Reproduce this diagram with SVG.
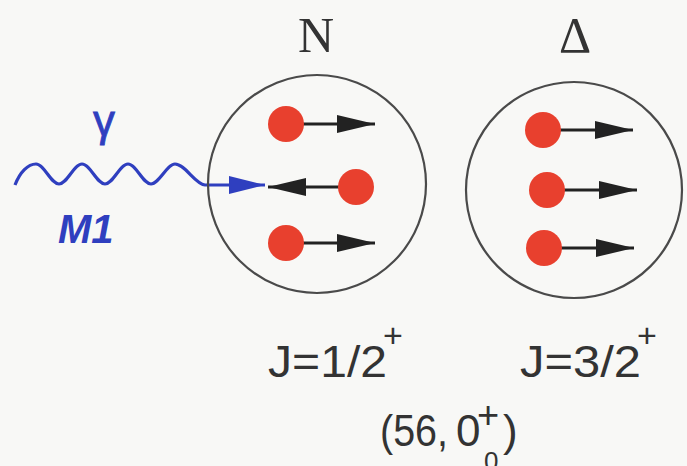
<svg xmlns="http://www.w3.org/2000/svg" width="687" height="466" viewBox="0 0 687 466">
<style>
.shell{fill:none;stroke:#4a4a4a;stroke-width:2.2}
.ball{fill:#e8402e}
.spin{stroke:#222;stroke-width:3;fill:none}
.lbl{font-family:"Liberation Sans",Arial,sans-serif;fill:#333}
.ser{font-family:"Liberation Serif","Times New Roman",serif;fill:#333}
.blue{fill:#2f3fbf;font-family:"Liberation Sans",Arial,sans-serif}
</style>
<defs>
<marker id="ah" markerWidth="38" markerHeight="18" refX="38" refY="9" orient="auto" markerUnits="userSpaceOnUse">
<path d="M0,0 L38,9 L0,18 Z" fill="#222"/>
</marker>
<marker id="bh" markerWidth="36" markerHeight="18" refX="36" refY="9" orient="auto" markerUnits="userSpaceOnUse">
<path d="M0,0 L36,9 L0,18 Z" fill="#2f3fbf"/>
</marker>
</defs>
<rect width="687" height="466" fill="#f8f8f6"/>
<g id="photon">
<path d="M15,185 C20,172 28,164 36,164 C44,164 51,184 59,184 C67,184 74,164 82,164 C90,164 97,184 105,184 C113,184 120,164 128,164 C136,164 143,184 151,184 C159,184 167,164 175,164 C185,164 195,184 205,185 L265,185" fill="none" stroke="#2f3fbf" stroke-width="3.2" marker-end="url(#bh)"/>
<text class="blue" x="104" y="136" font-size="44" text-anchor="middle" stroke="#2f3fbf" stroke-width="0.8">γ</text>
<text class="blue" x="58" y="243" font-size="40" font-weight="bold" font-style="italic">M1</text>
</g>
<g id="nucleon">
<circle class="shell" cx="317" cy="184" r="109"/>
<text class="ser" x="316" y="52" font-size="50" text-anchor="middle">N</text>
</g>
<g id="delta">
<circle class="shell" cx="574" cy="190" r="108"/>
<text class="ser" x="575" y="52" font-size="50" text-anchor="middle">Δ</text>
</g>
<g id="connectors">
<line class="spin" x1="286" y1="124" x2="375" y2="124" marker-end="url(#ah)"/>
<line class="spin" x1="356" y1="187" x2="268" y2="187" marker-end="url(#ah)"/>
<line class="spin" x1="286" y1="243" x2="375" y2="243" marker-end="url(#ah)"/>
<line class="spin" x1="543" y1="130" x2="633" y2="130" marker-end="url(#ah)"/>
<line class="spin" x1="547" y1="190" x2="637" y2="190" marker-end="url(#ah)"/>
<line class="spin" x1="544" y1="248" x2="634" y2="248" marker-end="url(#ah)"/>
</g>
<g id="quarks">
<circle class="ball" cx="286" cy="124" r="18"/>
<circle class="ball" cx="356" cy="187" r="18"/>
<circle class="ball" cx="286" cy="243" r="18"/>
<circle class="ball" cx="543" cy="130" r="18"/>
<circle class="ball" cx="547" cy="190" r="18"/>
<circle class="ball" cx="544" cy="248" r="18"/>
</g>
<g id="labels">
<text class="lbl" x="268" y="377" font-size="44" textLength="119" lengthAdjust="spacingAndGlyphs">J=1/2</text>
<text class="lbl" x="383" y="347" font-size="34">+</text>
<text class="lbl" x="520" y="377" font-size="44" textLength="121" lengthAdjust="spacingAndGlyphs">J=3/2</text>
<text class="lbl" x="637" y="347" font-size="34">+</text>
<text class="lbl" x="380" y="446" font-size="44" textLength="68" lengthAdjust="spacingAndGlyphs">(56,</text>
<text class="lbl" x="456" y="446" font-size="44">0</text>
<text class="lbl" x="477" y="428" font-size="38">+</text>
<text class="lbl" x="484" y="470" font-size="26">0</text>
<text class="lbl" x="503" y="446" font-size="44">)</text>
</g>
</svg>
